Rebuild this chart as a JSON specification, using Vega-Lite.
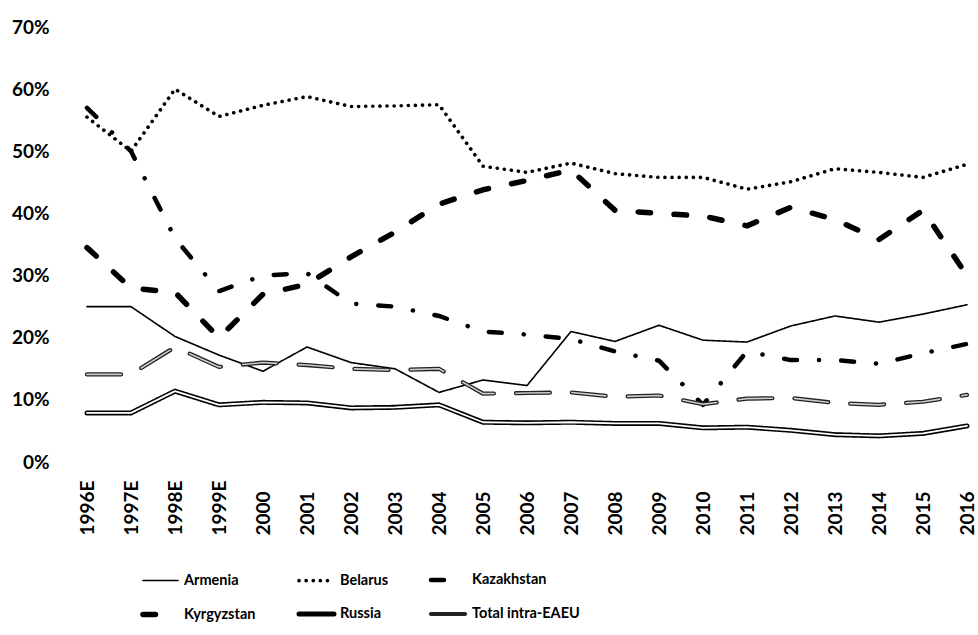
{
  "$schema": "https://vega.github.io/schema/vega-lite/v6.json",
  "width": 902,
  "height": 435,
  "autosize": {"type": "none"},
  "padding": {"left": 76, "top": 27, "right": 0, "bottom": 173},
  "background": "white",
  "config": {"view": {"stroke": null}, "font": "Lato"},
  "datasets": {
    "d": [
      {"year": "1996E", "series": "Armenia", "value": 25.0},
      {"year": "1997E", "series": "Armenia", "value": 25.0},
      {"year": "1998E", "series": "Armenia", "value": 20.2},
      {"year": "1999E", "series": "Armenia", "value": 17.2},
      {"year": "2000", "series": "Armenia", "value": 14.6},
      {"year": "2001", "series": "Armenia", "value": 18.5},
      {"year": "2002", "series": "Armenia", "value": 16.0},
      {"year": "2003", "series": "Armenia", "value": 15.0},
      {"year": "2004", "series": "Armenia", "value": 11.2},
      {"year": "2005", "series": "Armenia", "value": 13.2},
      {"year": "2006", "series": "Armenia", "value": 12.3},
      {"year": "2007", "series": "Armenia", "value": 21.0},
      {"year": "2008", "series": "Armenia", "value": 19.4},
      {"year": "2009", "series": "Armenia", "value": 22.0},
      {"year": "2010", "series": "Armenia", "value": 19.6},
      {"year": "2011", "series": "Armenia", "value": 19.3},
      {"year": "2012", "series": "Armenia", "value": 21.9},
      {"year": "2013", "series": "Armenia", "value": 23.5},
      {"year": "2014", "series": "Armenia", "value": 22.5},
      {"year": "2015", "series": "Armenia", "value": 23.8},
      {"year": "2016", "series": "Armenia", "value": 25.3},
      {"year": "1996E", "series": "Belarus", "value": 55.5},
      {"year": "1997E", "series": "Belarus", "value": 50.0},
      {"year": "1998E", "series": "Belarus", "value": 60.0},
      {"year": "1999E", "series": "Belarus", "value": 55.6},
      {"year": "2000", "series": "Belarus", "value": 57.4},
      {"year": "2001", "series": "Belarus", "value": 58.8},
      {"year": "2002", "series": "Belarus", "value": 57.2},
      {"year": "2003", "series": "Belarus", "value": 57.3},
      {"year": "2004", "series": "Belarus", "value": 57.5},
      {"year": "2005", "series": "Belarus", "value": 47.6},
      {"year": "2006", "series": "Belarus", "value": 46.6},
      {"year": "2007", "series": "Belarus", "value": 48.1},
      {"year": "2008", "series": "Belarus", "value": 46.4},
      {"year": "2009", "series": "Belarus", "value": 45.8},
      {"year": "2010", "series": "Belarus", "value": 45.8},
      {"year": "2011", "series": "Belarus", "value": 43.9},
      {"year": "2012", "series": "Belarus", "value": 45.1},
      {"year": "2013", "series": "Belarus", "value": 47.2},
      {"year": "2014", "series": "Belarus", "value": 46.6},
      {"year": "2015", "series": "Belarus", "value": 45.8},
      {"year": "2016", "series": "Belarus", "value": 47.9},
      {"year": "1996E", "series": "Kazakhstan", "value": 57.0},
      {"year": "1997E", "series": "Kazakhstan", "value": 50.0},
      {"year": "1998E", "series": "Kazakhstan", "value": 36.0},
      {"year": "1999E", "series": "Kazakhstan", "value": 27.5},
      {"year": "2000", "series": "Kazakhstan", "value": 30.0},
      {"year": "2001", "series": "Kazakhstan", "value": 30.4},
      {"year": "2002", "series": "Kazakhstan", "value": 25.5},
      {"year": "2003", "series": "Kazakhstan", "value": 25.0},
      {"year": "2004", "series": "Kazakhstan", "value": 23.5},
      {"year": "2005", "series": "Kazakhstan", "value": 21.0},
      {"year": "2006", "series": "Kazakhstan", "value": 20.5},
      {"year": "2007", "series": "Kazakhstan", "value": 19.8},
      {"year": "2008", "series": "Kazakhstan", "value": 17.8},
      {"year": "2009", "series": "Kazakhstan", "value": 16.3},
      {"year": "2010", "series": "Kazakhstan", "value": 9.2},
      {"year": "2011", "series": "Kazakhstan", "value": 17.8},
      {"year": "2012", "series": "Kazakhstan", "value": 16.4},
      {"year": "2013", "series": "Kazakhstan", "value": 16.4},
      {"year": "2014", "series": "Kazakhstan", "value": 15.8},
      {"year": "2015", "series": "Kazakhstan", "value": 17.5},
      {"year": "2016", "series": "Kazakhstan", "value": 19.0},
      {"year": "1996E", "series": "Kyrgyzstan", "value": 34.5},
      {"year": "1997E", "series": "Kyrgyzstan", "value": 28.0},
      {"year": "1998E", "series": "Kyrgyzstan", "value": 27.3},
      {"year": "1999E", "series": "Kyrgyzstan", "value": 20.0},
      {"year": "2000", "series": "Kyrgyzstan", "value": 27.0},
      {"year": "2001", "series": "Kyrgyzstan", "value": 28.6},
      {"year": "2002", "series": "Kyrgyzstan", "value": 33.0},
      {"year": "2003", "series": "Kyrgyzstan", "value": 37.0},
      {"year": "2004", "series": "Kyrgyzstan", "value": 41.5},
      {"year": "2005", "series": "Kyrgyzstan", "value": 43.8},
      {"year": "2006", "series": "Kyrgyzstan", "value": 45.3},
      {"year": "2007", "series": "Kyrgyzstan", "value": 47.0},
      {"year": "2008", "series": "Kyrgyzstan", "value": 40.5},
      {"year": "2009", "series": "Kyrgyzstan", "value": 40.0},
      {"year": "2010", "series": "Kyrgyzstan", "value": 39.6},
      {"year": "2011", "series": "Kyrgyzstan", "value": 38.0},
      {"year": "2012", "series": "Kyrgyzstan", "value": 41.0},
      {"year": "2013", "series": "Kyrgyzstan", "value": 39.0},
      {"year": "2014", "series": "Kyrgyzstan", "value": 35.8},
      {"year": "2015", "series": "Kyrgyzstan", "value": 40.5},
      {"year": "2016", "series": "Kyrgyzstan", "value": 30.0},
      {"year": "1996E", "series": "Russia", "value": 7.9},
      {"year": "1997E", "series": "Russia", "value": 7.9},
      {"year": "1998E", "series": "Russia", "value": 11.4},
      {"year": "1999E", "series": "Russia", "value": 9.2},
      {"year": "2000", "series": "Russia", "value": 9.6},
      {"year": "2001", "series": "Russia", "value": 9.5},
      {"year": "2002", "series": "Russia", "value": 8.7},
      {"year": "2003", "series": "Russia", "value": 8.8},
      {"year": "2004", "series": "Russia", "value": 9.2},
      {"year": "2005", "series": "Russia", "value": 6.4},
      {"year": "2006", "series": "Russia", "value": 6.3},
      {"year": "2007", "series": "Russia", "value": 6.4},
      {"year": "2008", "series": "Russia", "value": 6.2},
      {"year": "2009", "series": "Russia", "value": 6.2},
      {"year": "2010", "series": "Russia", "value": 5.5},
      {"year": "2011", "series": "Russia", "value": 5.6},
      {"year": "2012", "series": "Russia", "value": 5.1},
      {"year": "2013", "series": "Russia", "value": 4.4},
      {"year": "2014", "series": "Russia", "value": 4.2},
      {"year": "2015", "series": "Russia", "value": 4.6},
      {"year": "2016", "series": "Russia", "value": 5.8},
      {"year": "1996E", "series": "Total intra-EAEU", "value": 14.1},
      {"year": "1997E", "series": "Total intra-EAEU", "value": 14.1},
      {"year": "1998E", "series": "Total intra-EAEU", "value": 18.5},
      {"year": "1999E", "series": "Total intra-EAEU", "value": 15.3},
      {"year": "2000", "series": "Total intra-EAEU", "value": 16.0},
      {"year": "2001", "series": "Total intra-EAEU", "value": 15.6},
      {"year": "2002", "series": "Total intra-EAEU", "value": 15.0},
      {"year": "2003", "series": "Total intra-EAEU", "value": 14.8},
      {"year": "2004", "series": "Total intra-EAEU", "value": 15.0},
      {"year": "2005", "series": "Total intra-EAEU", "value": 11.0},
      {"year": "2006", "series": "Total intra-EAEU", "value": 11.1},
      {"year": "2007", "series": "Total intra-EAEU", "value": 11.2},
      {"year": "2008", "series": "Total intra-EAEU", "value": 10.5},
      {"year": "2009", "series": "Total intra-EAEU", "value": 10.7},
      {"year": "2010", "series": "Total intra-EAEU", "value": 9.3},
      {"year": "2011", "series": "Total intra-EAEU", "value": 10.2},
      {"year": "2012", "series": "Total intra-EAEU", "value": 10.3},
      {"year": "2013", "series": "Total intra-EAEU", "value": 9.5},
      {"year": "2014", "series": "Total intra-EAEU", "value": 9.2},
      {"year": "2015", "series": "Total intra-EAEU", "value": 9.7},
      {"year": "2016", "series": "Total intra-EAEU", "value": 10.8}
    ]
  },
  "data": {"name": "d"},
  "encoding": {
    "x": {
      "field": "year", "type": "ordinal", "sort": null,
      "scale": {"type": "point", "padding": 0.25},
      "axis": {"title": null, "domain": false, "ticks": false, "grid": false, "labelAngle": -90, "labelAlign": "left", "labelBaseline": "middle", "labelPadding": 73, "labelFontSize": 19, "labelFontWeight": "bold", "labelColor": "#000"}
    },
    "y": {
      "field": "value", "type": "quantitative",
      "scale": {"domain": [0, 70]},
      "axis": {"title": null, "domain": false, "ticks": false, "grid": false, "values": [0, 10, 20, 30, 40, 50, 60, 70], "labelExpr": "datum.value + '%'", "labelPadding": 27, "labelFontSize": 19, "labelFontWeight": "bold", "labelColor": "#000"}
    }
  },
  "layer": [
    {
      "mark": {"type": "line", "strokeCap": "round", "strokeJoin": "round"},
      "encoding": {
        "color": {
          "field": "series", "type": "nominal",
          "scale": {"domain": ["Armenia", "Belarus", "Kazakhstan", "Kyrgyzstan", "Russia", "Total intra-EAEU"], "range": ["#000", "#000", "#000", "#000", "#000", "#222"]},
          "legend": {"orient": "none", "direction": "horizontal", "legendX": 64, "legendY": 533, "columns": 3, "title": null, "symbolType": "stroke", "symbolSize": 1225, "labelFontSize": 14.5, "labelFontWeight": "bold", "labelColor": "#000", "gridAlign": "each", "columnPadding": 33, "rowPadding": 5, "labelOffset": 3, "padding": 0, "encode": {"symbols": {"update": {"strokeCap": {"value": "round"}}}}}
        },
        "strokeDash": {
          "field": "series", "type": "nominal",
          "scale": {"domain": ["Armenia", "Belarus", "Kazakhstan", "Kyrgyzstan", "Russia", "Total intra-EAEU"], "range": [[1, 0], [0.1, 7], [13, 22, 0.1, 22], [12.5, 23.5], [1, 0], [34, 22]]}
        },
        "strokeWidth": {
          "field": "series", "type": "nominal",
          "scale": {"type": "ordinal", "domain": ["Armenia", "Belarus", "Kazakhstan", "Kyrgyzstan", "Russia", "Total intra-EAEU"], "range": [1.6, 3.6, 4.5, 5.5, 5, 4.2]}
        }
      }
    },
    {
      "transform": [{"filter": "datum.series === 'Russia'"}],
      "mark": {"type": "line", "color": "#fff", "strokeWidth": 1.8, "strokeCap": "round", "strokeJoin": "round"}
    },
    {
      "transform": [{"filter": "datum.series === 'Total intra-EAEU'"}],
      "mark": {"type": "line", "color": "#ccc", "strokeWidth": 1.6, "strokeDash": [34, 22], "strokeCap": "round", "strokeJoin": "round"}
    }
  ]
}
